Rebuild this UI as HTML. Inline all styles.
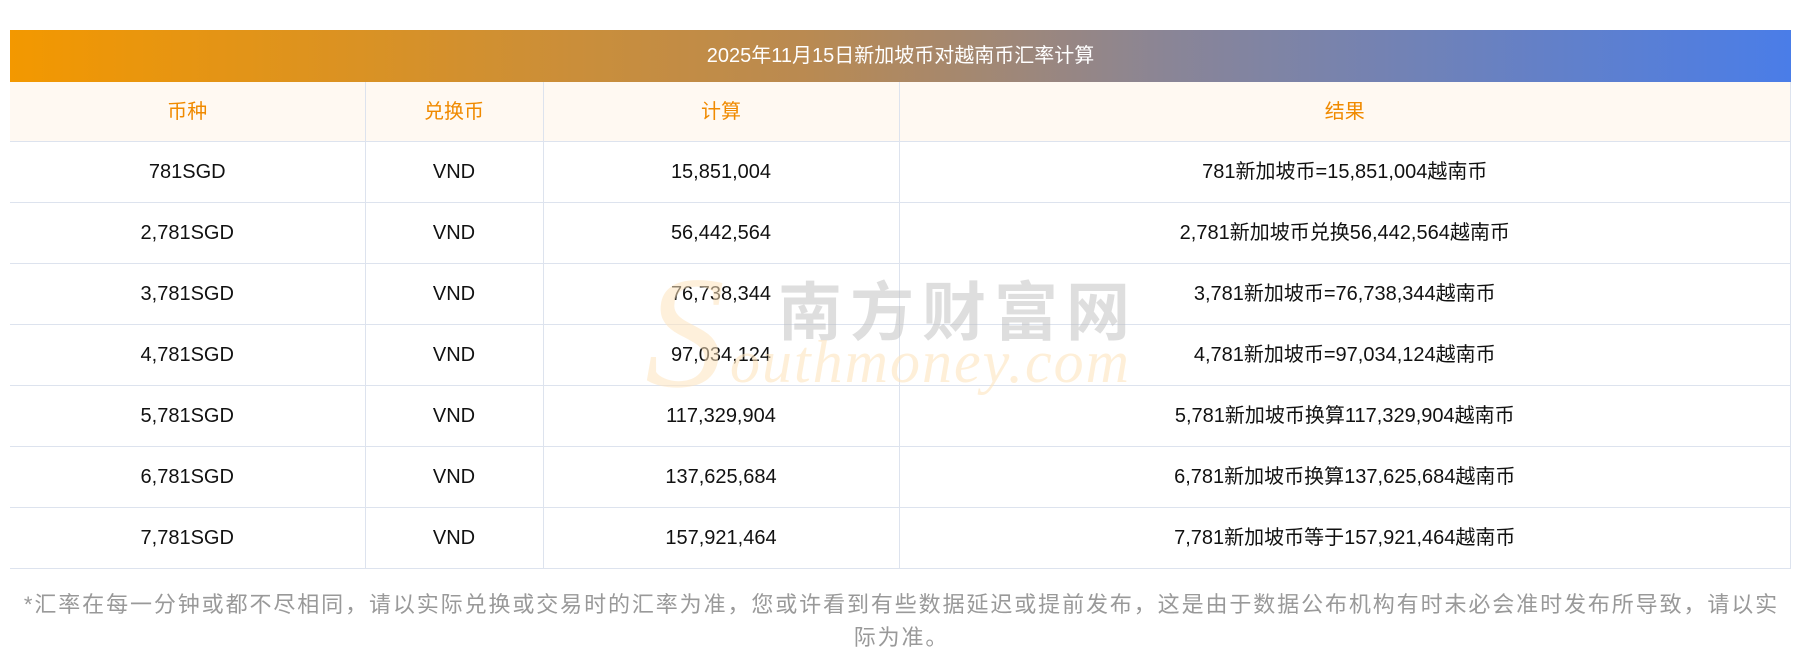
<!DOCTYPE html>
<html><head><meta charset="utf-8"><style>
body{margin:0;width:1800px;height:672px;background:#fff;position:relative;overflow:hidden;font-family:"Liberation Sans","Noto Sans CJK SC",sans-serif;}
.bar{position:absolute;left:10px;top:30px;width:1781px;height:52px;background:linear-gradient(90deg,#f39800,#b98a52 45%,#8a8596 65%,#4a7de8);color:#fff;font-size:20px;line-height:52px;text-align:center;}
table{position:absolute;left:10px;top:82px;width:1781px;border-collapse:collapse;table-layout:fixed;}
td{border:1px solid #dde3ee;text-align:center;font-size:20px;line-height:24px;color:#111;height:60px;padding:0;vertical-align:middle;}
tr.h td{background:#fff9f2;color:#f08a00;height:59px;}
tr td:first-child{border-left:none}
tr.h td{border-top:none}
.note{position:absolute;left:14px;top:588px;width:1775px;font-size:22px;line-height:33px;color:#999;text-align:center;letter-spacing:1.9px;}
.wm{position:absolute;pointer-events:none;}
</style></head><body>
<div class="bar">2025年11月15日新加坡币对越南币汇率计算</div>
<table>
<colgroup><col style="width:355px"><col style="width:178px"><col style="width:356px"><col></colgroup>
<tr class="h"><td>币种</td><td>兑换币</td><td>计算</td><td>结果</td></tr>
<tr><td>781SGD</td><td>VND</td><td>15,851,004</td><td>781新加坡币=15,851,004越南币</td></tr>
<tr><td>2,781SGD</td><td>VND</td><td>56,442,564</td><td>2,781新加坡币兑换56,442,564越南币</td></tr>
<tr><td>3,781SGD</td><td>VND</td><td>76,738,344</td><td>3,781新加坡币=76,738,344越南币</td></tr>
<tr><td>4,781SGD</td><td>VND</td><td>97,034,124</td><td>4,781新加坡币=97,034,124越南币</td></tr>
<tr><td>5,781SGD</td><td>VND</td><td>117,329,904</td><td>5,781新加坡币换算117,329,904越南币</td></tr>
<tr><td>6,781SGD</td><td>VND</td><td>137,625,684</td><td>6,781新加坡币换算137,625,684越南币</td></tr>
<tr><td>7,781SGD</td><td>VND</td><td>157,921,464</td><td>7,781新加坡币等于157,921,464越南币</td></tr>
</table>
<div class="wm" style="left:645px;top:240px;font:italic 160px 'Liberation Serif',serif;color:rgba(253,228,190,0.55);">S</div>
<div class="wm" style="left:778px;top:262px;font-size:64px;font-weight:bold;color:rgba(190,190,190,0.5);letter-spacing:8px;font-family:'Noto Sans CJK SC',sans-serif;">南方财富网</div>
<div class="wm" style="left:730px;top:328px;font:italic 60px 'Liberation Serif',serif;color:rgba(253,228,190,0.6);letter-spacing:2px;">outhmoney.com</div>
<div class="note">*汇率在每一分钟或都不尽相同，请以实际兑换或交易时的汇率为准，您或许看到有些数据延迟或提前发布，这是由于数据公布机构有时未必会准时发布所导致，请以实际为准。</div>
</body></html>
